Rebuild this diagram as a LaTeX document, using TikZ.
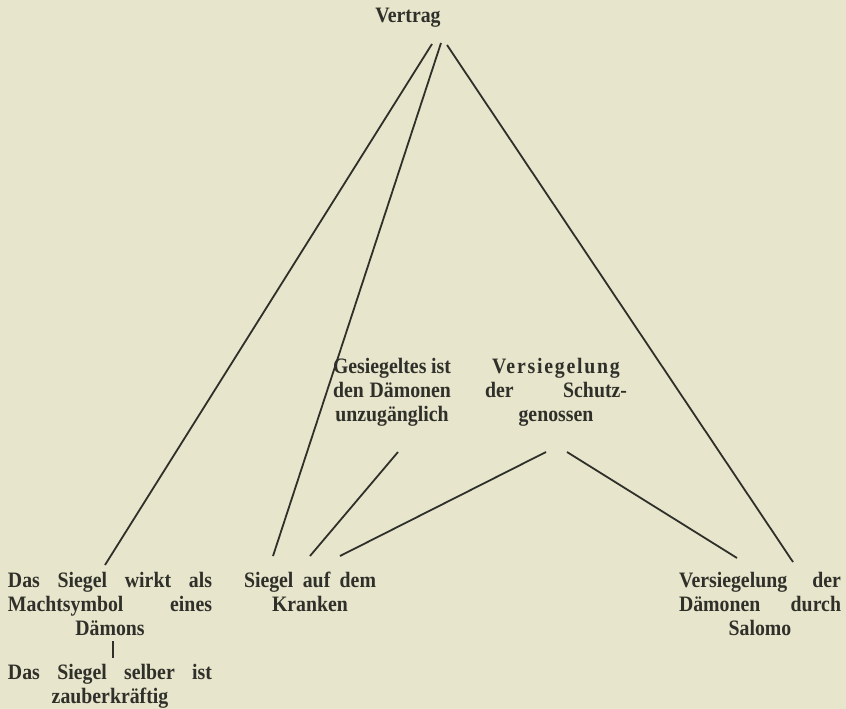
\documentclass[tikz,border=0pt]{standalone}
\usepackage{fontspec}
\setmainfont{Liberation Serif}
\newfontfamily\labfont{Liberation Serif}[FakeStretch=0.9]
\usetikzlibrary{calc}
\definecolor{paper}{RGB}{231,229,203}
\definecolor{ink}{RGB}{48,48,42}
\newcommand{\jl}[2]{\makebox[#1][s]{#2}}
\begin{document}
\begin{tikzpicture}[x=1pt,y=-1pt,
  lbl/.style={inner sep=0pt, text=ink, font=\labfont\fontsize{22}{24}\selectfont\bfseries, align=center},
  conn/.style={draw=ink, line width=1.8pt}]
\fill[paper] (0,0) rectangle (846,709);
\useasboundingbox (0,0) rectangle (846,709);
\node[lbl] (vertrag) at (408,18) {Vertrag};
\node[lbl] (ges) at (392,392) {\jl{118pt}{Gesiegeltes ist}\\ \jl{118pt}{den Dämonen}\\ unzugänglich};
\node[lbl] (schutz) at (556,392) {\makebox[142pt]{\addfontfeature{LetterSpace=8}Versiegelung}\\ \jl{142pt}{der Schutz-}\\ genossen};
\node[lbl] (siegelA) at (110,604) {\jl{204pt}{Das Siegel wirkt als}\\ \jl{204pt}{Machtsymbol eines}\\ Dämons};
\node[lbl] (siegelB) at (110,686) {\jl{204pt}{Das Siegel selber ist}\\ zauberkräftig};
\node[lbl] (kranke) at (310,592) {\jl{132pt}{Siegel auf dem}\\ Kranken};
\node[lbl] (salomo) at (760,604) {\jl{162pt}{Versiegelung der}\\ \jl{162pt}{Dämonen durch}\\ Salomo};
\draw[conn] ([shift={(24,26)}]vertrag.center) -- ([shift={(-5,-39)}]siegelA.center);
\draw[conn] ([shift={(33,25)}]vertrag.center) -- ([shift={(-37,-36)}]kranke.center);
\draw[conn] ([shift={(39,27)}]vertrag.center) -- ([shift={(33,-42)}]salomo.center);
\draw[conn] ([shift={(6,60)}]ges.center) -- ([shift={(0,-36)}]kranke.center);
\draw[conn] ([shift={(-10,60)}]schutz.center) -- ([shift={(30,-36)}]kranke.center);
\draw[conn] ([shift={(11,60)}]schutz.center) -- ([shift={(-23,-46)}]salomo.center);
\draw[ink, line width=1.3pt] ([shift={(3,37)}]siegelA.center) -- ([shift={(3,-28)}]siegelB.center);
\end{tikzpicture}
\end{document}
